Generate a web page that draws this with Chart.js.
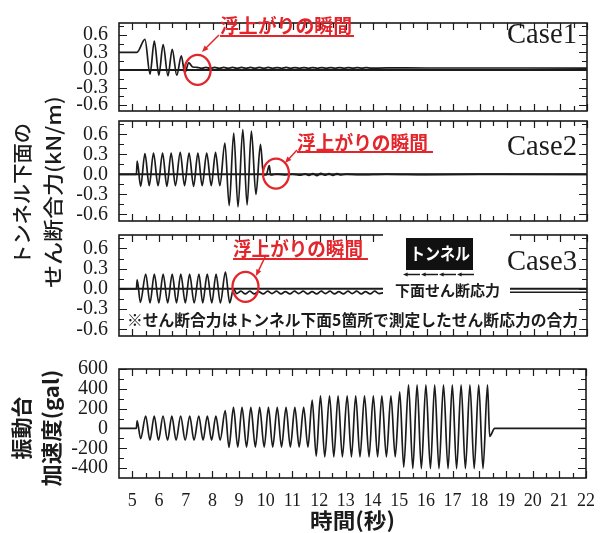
<!DOCTYPE html>
<html>
<head>
<meta charset="utf-8">
<script src="https://cdn.jsdelivr.net/npm/chart.js@4.4.1/dist/chart.umd.min.js"></script>
<style>
  html, body { margin: 0; padding: 0; background: #fff; }
  #wrap { position: relative; width: 607px; height: 533px; }
  #wrap canvas { position: absolute; left: 0; top: 0; }
</style>
</head>
<body>
<div id="wrap">
  <canvas id="c1" width="607" height="533"></canvas>
  <canvas id="c2" width="607" height="533"></canvas>
  <canvas id="c3" width="607" height="533"></canvas>
  <canvas id="c4" width="607" height="533"></canvas>
</div>
<script>
// 読み取った値（時刻[秒], 値）— 波形は山と谷の位置で記録
const case1Time = [4.5, 5.17, 5.47, 5.66, 5.82, 5.99, 6.15, 6.33, 6.49, 6.66, 6.83, 6.96, 7.11, 7.26,
  7.42, 7.58, 7.75, 7.92, 8.08, 8.25, 8.42, 8.58, 8.75, 8.92, 9.08, 9.25, 9.42, 9.58, 9.75, 9.92,
  10.08, 10.25, 10.42, 10.58, 10.75, 10.92, 11.08, 11.25, 11.42, 11.58, 11.75, 11.92, 12.08, 12.25,
  12.42, 12.58, 12.75, 12.92, 13.08, 13.25, 13.42, 13.58, 13.75, 13.92, 14.5, 16, 18, 22];
const case1Value = [0.3, 0.3, 0.52, -0.07, 0.49, -0.09, 0.43, -0.1, 0.35, -0.09, 0.24, -0.05, 0.12, 0.05,
  0.045, 0.027, 0.044, 0.028, 0.043, 0.027, 0.044, 0.028, 0.043, 0.027, 0.042, 0.028, 0.043, 0.027, 0.042, 0.028,
  0.042, 0.028, 0.041, 0.027, 0.042, 0.028, 0.041, 0.028, 0.041, 0.028, 0.04, 0.028, 0.04, 0.029,
  0.04, 0.029, 0.039, 0.029, 0.039, 0.03, 0.038, 0.03, 0.038, 0.03, 0.034, 0.033, 0.033, 0.032];

const case2Time = [4.5, 5.15, 5.18, 5.31, 5.47, 5.63, 5.79, 5.96, 6.13, 6.29, 6.45, 6.61, 6.79, 6.95,
  7.12, 7.29, 7.45, 7.61, 7.78, 7.95, 8.11, 8.27, 8.46, 8.62, 8.79, 8.95, 9.13, 9.29, 9.45, 9.62,
  9.79, 9.9, 10.0, 10.12, 10.17, 10.4, 10.7, 11.0, 11.3, 11.45, 11.6, 11.75, 11.9, 12.05, 12.2,
  12.35, 12.5, 12.65, 12.8, 13.0, 13.5, 14.5, 16, 18, 22];
const case2Value = [0, 0, 0.2, -0.18, 0.31, -0.17, 0.32, -0.17, 0.32, -0.18, 0.32, -0.17, 0.33, -0.17,
  0.32, -0.18, 0.32, -0.17, 0.32, -0.17, 0.33, -0.17, 0.47, -0.47, 0.62, -0.49, 0.67, -0.46, 0.65, -0.3,
  0.45, 0.0, -0.01, 0.13, -0.01, 0.005, -0.008, 0.004, -0.012, 0.008, -0.015, 0.012, -0.02, 0.015, -0.012,
  0.01, -0.015, 0.012, -0.01, 0.004, -0.005, 0.004, -0.003, 0.002, 0];

const case3Time = [4.5, 5.15, 5.18, 5.3, 5.5, 5.66, 5.82, 5.99, 6.15, 6.32, 6.49, 6.65, 6.81, 6.98,
  7.14, 7.31, 7.49, 7.63, 7.8, 7.97, 8.13, 8.29, 8.48, 8.64, 8.78, 8.9,
  9.06, 9.22, 9.39, 9.56, 9.72, 9.89, 10.06, 10.22, 10.39, 10.56, 10.72, 10.89, 11.06, 11.22,
  11.39, 11.56, 11.72, 11.89, 12.06, 12.22, 12.39, 12.56, 12.72, 12.89, 13.06, 13.22, 13.39, 13.56,
  13.72, 13.89, 14.06, 14.22, 14.5, 22];
const case3Value = [0, 0, 0.135, -0.2, 0.22, -0.21, 0.22, -0.21, 0.22, -0.21, 0.22, -0.21, 0.22, -0.21,
  0.22, -0.21, 0.22, -0.21, 0.22, -0.21, 0.22, -0.21, 0.25, -0.21, 0.0, -0.07,
  -0.035, -0.075, -0.035, -0.075, -0.04, -0.075, -0.035, -0.07, -0.035, -0.075, -0.04, -0.075, -0.035, -0.07,
  -0.035, -0.075, -0.04, -0.075, -0.035, -0.07, -0.035, -0.075, -0.04, -0.075, -0.035, -0.07, -0.035, -0.075,
  -0.04, -0.075, -0.035, -0.07, -0.05, -0.05];

const accTime = [4.5, 5.15, 5.18, 5.31,
  5.5, 5.66, 5.82, 5.98, 6.15, 6.32, 6.48, 6.64, 6.81, 6.98, 7.15, 7.31, 7.49, 7.65, 7.81, 7.97, 8.13, 8.29,
  8.48, 8.62, 8.79, 8.95, 9.11, 9.28, 9.44, 9.61, 9.77, 9.94, 10.1, 10.26, 10.43, 10.59, 10.76, 10.92, 11.09, 11.25, 11.42, 11.58,
  11.74, 11.89, 12.05, 12.21, 12.39, 12.55, 12.71, 12.87, 13.05, 13.21, 13.37, 13.53, 13.7, 13.87, 14.03, 14.19, 14.35, 14.52, 14.69, 14.85,
  15.02, 15.17, 15.35, 15.51, 15.67, 15.83, 16.0, 16.17, 16.33, 16.49, 16.66, 16.83, 16.99, 17.15, 17.32, 17.48, 17.65, 17.81, 17.98, 18.14, 18.31,
  18.39, 18.58, 22];
const accValue = [0, 0, 77, -103,
  125, -117, 125, -117, 125, -117, 125, -117, 125, -117, 125, -117, 125, -117, 125, -117, 125, -117,
  180, -190, 212, -188, 212, -188, 212, -188, 212, -188, 212, -188, 212, -188, 212, -188, 212, -188, 212, -188,
  285, -280, 330, -287, 330, -287, 330, -287, 330, -287, 330, -287, 330, -287, 330, -287, 330, -287, 330, -287,
  370, -390, 440, -405, 440, -405, 440, -405, 440, -405, 440, -405, 440, -405, 440, -405, 440, -405, 440, -405, 440,
  -80, 0, 0];

const xTickLabels = [5, 6, 7, 8, 9, 10, 11, 12, 13, 14, 15, 16, 17, 18, 19, 20, 21, 22];
const xMinorTicks = [5.5, 6.5, 7.5, 8.5, 9.5, 10.5, 11.5, 12.5, 13.5, 14.5, 15.5, 16.5, 17.5, 18.5, 19.5, 20.5, 21.5];
const shearTicks = [-0.6, -0.3, 0, 0.3, 0.6];
const shearMinor = [-0.45, -0.15, 0.15, 0.45, 0.75];
const accTicks = [-400, -200, 0, 200, 400, 600];
const accMinor = [-300, -100, 100, 300, 500];

const RED = '#e3262b';
const INK = '#1b1b1b';
const SERIF = '"Liberation Serif", "Times New Roman", serif';
const GOTHIC = '"Noto Sans CJK JP", "Noto Sans", sans-serif';

const toPoints = (ts, vs) => ts.map((t, i) => ({ x: t, y: vs[i] }));

function fitText(ctx, text, x, y, width, font, color) {
  ctx.save();
  ctx.font = font;
  ctx.fillStyle = color;
  ctx.textBaseline = 'middle';
  ctx.textAlign = 'left';
  const w = ctx.measureText(text).width;
  ctx.translate(x, y);
  ctx.scale(width / w, 1);
  ctx.fillText(text, 0, 0);
  ctx.restore();
}

function vText(ctx, text, cx, cy, len, font) {
  ctx.save();
  ctx.translate(cx, cy);
  ctx.rotate(-Math.PI / 2);
  fitText(ctx, text, -len / 2, 0, len, font, INK);
  ctx.restore();
}

function arrow(ctx, x0, y0, x1, y1, head, color) {
  const ang = Math.atan2(y1 - y0, x1 - x0);
  ctx.save();
  ctx.strokeStyle = color;
  ctx.fillStyle = color;
  ctx.lineWidth = 1.5;
  ctx.beginPath();
  ctx.moveTo(x0, y0);
  ctx.lineTo(x1 - Math.cos(ang) * head * 0.8, y1 - Math.sin(ang) * head * 0.8);
  ctx.stroke();
  ctx.beginPath();
  ctx.moveTo(x1, y1);
  ctx.lineTo(x1 - head * Math.cos(ang - 0.4), y1 - head * Math.sin(ang - 0.4));
  ctx.lineTo(x1 - head * Math.cos(ang + 0.4), y1 - head * Math.sin(ang + 0.4));
  ctx.closePath();
  ctx.fill();
  ctx.restore();
}

// 浮上がりの瞬間 の注記
function drawNote(chart, n) {
  const { ctx, scales: { x, y } } = chart;
  const cx = x.getPixelForValue(n.t);
  const cy = y.getPixelForValue(n.v);
  ctx.save();
  ctx.strokeStyle = RED;
  ctx.lineWidth = 2.3;
  ctx.beginPath();
  ctx.ellipse(cx, cy, 13, 15, 0, 0, Math.PI * 2);
  ctx.stroke();
  fitText(ctx, '浮上がりの瞬間', n.tx, n.ty, n.tw, 'bold 19px ' + GOTHIC, RED);
  ctx.lineWidth = 2;
  ctx.beginPath();
  ctx.moveTo(n.tx, n.uy);
  ctx.lineTo(n.ux, n.uy);
  ctx.stroke();
  ctx.restore();
  arrow(ctx, n.a[0], n.a[1], n.a[2], n.a[3], 7, RED);
}

function caseLabel(ctx, text, baseline) {
  ctx.save();
  ctx.font = '29px ' + SERIF;
  ctx.fillStyle = INK;
  ctx.textBaseline = 'alphabetic';
  const w = ctx.measureText(text).width;
  ctx.translate(507, baseline);
  ctx.scale(70 / w, 1);
  ctx.fillText(text, 0, 0);
  ctx.restore();
}

function frameTicks(yMajor, yMinor) {
  return {
    id: 'frameTicks',
    afterDatasetsDraw(chart) {
      const { ctx, chartArea: a, scales: { x, y } } = chart;
      ctx.save();
      ctx.strokeStyle = INK;
      ctx.lineWidth = 1.2;
      ctx.beginPath();
      const tickX = (v, len) => {
        const px = Math.round(x.getPixelForValue(v)) + 0.5;
        ctx.moveTo(px, a.bottom); ctx.lineTo(px, a.bottom - len);
        ctx.moveTo(px, a.top); ctx.lineTo(px, a.top + len);
      };
      const tickY = (v, len) => {
        const py = Math.round(y.getPixelForValue(v)) + 0.5;
        ctx.moveTo(a.left, py); ctx.lineTo(a.left + len, py);
        ctx.moveTo(a.right, py); ctx.lineTo(a.right - len, py);
      };
      xTickLabels.forEach(v => tickX(v, 7));
      xMinorTicks.forEach(v => tickX(v, 5));
      yMajor.forEach(v => tickY(v, 8));
      yMinor.forEach(v => tickY(v, 5));
      ctx.stroke();
      ctx.lineWidth = 1.6;
      ctx.strokeRect(a.left, a.top, a.width, a.height);
      ctx.restore();
    }
  };
}

function makePanel(id, area, datasets, yRange, yMajor, yMinor, showX, overlay) {
  return new Chart(document.getElementById(id), {
    type: 'line',
    data: { datasets },
    options: {
      responsive: false,
      animation: false,
      devicePixelRatio: 1,
      layout: { padding: { top: area.top, bottom: 533 - area.bottom - (showX ? 55 : 0), left: 0, right: 607 - area.right } },
      elements: { point: { radius: 0 }, line: { cubicInterpolationMode: 'monotone', borderJoinStyle: 'round' } },
      plugins: { legend: { display: false }, tooltip: { enabled: false } },
      scales: {
        x: {
          type: 'linear', min: 4.5, max: 22, display: showX,
          grid: { display: false, drawTicks: false }, border: { display: false },
          afterBuildTicks: s => { s.ticks = xTickLabels.map(v => ({ value: v })); },
          afterFit: s => { if (showX) s.height = 55; },
          ticks: { font: { family: SERIF, size: 18 }, color: INK, padding: 12, maxRotation: 0, autoSkip: false }
        },
        y: {
          type: 'linear', min: yRange[0], max: yRange[1],
          grid: { display: false, drawTicks: false }, border: { display: false },
          afterBuildTicks: s => { s.ticks = yMajor.map(v => ({ value: v })); },
          afterFit: s => { s.width = 119; },
          ticks: {
            font: { family: SERIF, size: 20 }, color: INK, padding: 11, autoSkip: false,
            callback: v => (Math.abs(yRange[1]) < 5 ? v.toFixed(1) : String(v))
          }
        }
      }
    },
    plugins: [frameTicks(yMajor, yMinor), { id: 'overlay', afterDraw: overlay }]
  });
}

function shearSets(ts, vs) {
  return [
    { data: toPoints(ts, vs), borderColor: INK, borderWidth: 1.7, order: 1 },
    { data: [{ x: 4.5, y: 0 }, { x: 22, y: 0 }], borderColor: INK, borderWidth: 2, order: 2, cubicInterpolationMode: 'default', tension: 0 }
  ];
}

makePanel('c1', { top: 11, bottom: 111, right: 587 }, shearSets(case1Time, case1Value), [-0.7, 0.8], shearTicks, shearMinor, false, chart => {
  const ctx = chart.ctx;
  caseLabel(ctx, 'Case1', 43);
  drawNote(chart, { t: 7.44, v: 0.0, tx: 220, ty: 26, tw: 132, uy: 36, ux: 354, a: [219, 35, 202, 52] });
  vText(ctx, 'トンネル下面の', 22, 194, 142, '500 20px ' + GOTHIC);
  vText(ctx, 'せん断合力(kN/m)', 53, 192, 192, '500 20px ' + GOTHIC);
});

makePanel('c2', { top: 121, bottom: 221, right: 587 }, shearSets(case2Time, case2Value), [-0.7, 0.8], shearTicks, shearMinor, false, chart => {
  caseLabel(chart.ctx, 'Case2', 155);
  drawNote(chart, { t: 10.37, v: 0.01, tx: 297, ty: 143, tw: 131, uy: 152, ux: 433, a: [297, 150, 285, 163] });
});

makePanel('c3', { top: 235, bottom: 336, right: 587 }, shearSets(case3Time, case3Value), [-0.7, 0.8], shearTicks, shearMinor, false, chart => {
  const ctx = chart.ctx;
  drawNote(chart, { t: 9.23, v: 0.03, tx: 233, ty: 249, tw: 130, uy: 259, ux: 368, a: [266, 255, 256, 276] });
  // トンネル模式図
  ctx.save();
  ctx.fillStyle = '#fff';
  ctx.fillRect(383, 226, 127, 73);
  ctx.fillStyle = '#111';
  ctx.fillRect(406, 238, 67, 32);
  ctx.restore();
  caseLabel(ctx, 'Case3', 270);
  fitText(ctx, 'トンネル', 410, 254, 60, 'bold 17px ' + GOTHIC, '#fff');
  for (let i = 0; i < 4; i++) {
    const x0 = 403 + i * 18;
    arrow(ctx, x0 + 17, 274.5, x0, 274.5, 5, INK);
  }
  fitText(ctx, '下面せん断応力', 395, 290.5, 105, 'bold 15px ' + GOTHIC, INK);
  fitText(ctx, '※せん断合力はトンネル下面5箇所で測定したせん断応力の合力', 127, 320, 451, 'bold 16px ' + GOTHIC, INK);
});

makePanel('c4', { top: 369, bottom: 478, right: 587 }, [
  { data: toPoints(accTime, accValue), borderColor: INK, borderWidth: 1.7 }
], [-500, 600], accTicks, accMinor, true, chart => {
  const ctx = chart.ctx;
  vText(ctx, '振動台', 21, 428, 63, 'bold 21px ' + GOTHIC);
  vText(ctx, '加速度(gal)', 51, 428, 117, 'bold 21px ' + GOTHIC);
  fitText(ctx, '時間(秒)', 310, 520, 85, 'bold 21px ' + GOTHIC, INK);
});
</script>
</body>
</html>
